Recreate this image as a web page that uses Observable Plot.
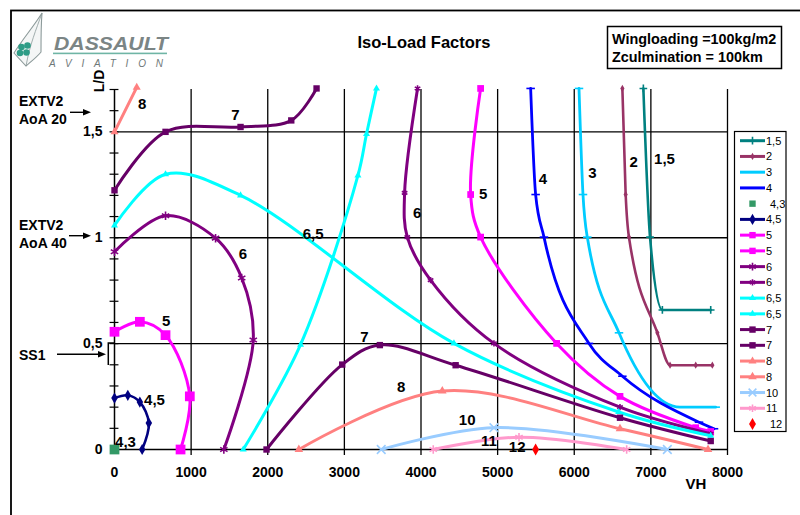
<!DOCTYPE html>
<html><head><meta charset="utf-8">
<script src="https://cdn.jsdelivr.net/npm/d3@7"></script>
<script src="https://cdn.jsdelivr.net/npm/@observablehq/plot@0.6"></script>
<style>
html,body{margin:0;padding:0;background:#fff;overflow:hidden;}
#wrap{position:relative;width:800px;height:515px;font-family:"Liberation Sans",Arial,sans-serif;}
#wrap > svg{position:absolute;left:0;top:0;max-width:none;}
</style></head><body><div id="wrap"></div>
<script>
// ---- data (VH, L/D) ----
const s1_5  = [[6902,1.705],[6989,1.003],[7150,0.659],[7781,0.659]];
const s2    = [[6628,1.705],[6671,1.204],[6714,1.003],[7085,0.551],[7250,0.398],[7585,0.398],[7802,0.398]];
const s3    = [[6062,1.705],[6114,1.204],[6170,1.003],[6584,0.551],[7380,0.2],[7846,0.2]];
const s4    = [[5431,1.705],[5496,1.204],[5605,1.003],[6192,0.501],[6628,0.346],[7628,0.129],[7824,0.098]];
const s4_3  = [[0,0]];
const s4_5  = [[0,0.243],[174,0.256],[331,0.224],[448,0.125],[361,0]];
const s5a   = [[0,0.556],[331,0.603],[666,0.54],[983,0.251],[862,0]];
const s5b   = [[4778,1.705],[4648,1.204],[4778,1.003],[5770,0.501],[6597,0.251],[7585,0.103],[7781,0.085]];
const s6a   = [[0,0.934],[666,1.104],[1319,0.998],[1660,0.81],[1811,0.517],[1427,0]];
const s6b   = [[3955,1.705],[3786,1.212],[3821,1.003],[4125,0.80],[4952,0.501],[6597,0.2],[7781,0.074]];
const s6_5a = [[0,1.058],[666,1.30],[1645,1.20],[4430,0.501],[6580,0.177],[7781,0.065]];
const s6_5b = [[1680,0],[2428,0.495],[3177,1.294],[3289,1.49],[3419,1.705]];
const s7a   = [[0,1.224],[666,1.50],[1645,1.523],[2307,1.554],[2637,1.705]];
const s7b   = [[1984,0],[2972,0.401],[3463,0.493],[4452,0.398],[6597,0.150],[7781,0.04]];
const s8a   = [[0,1.5],[290,1.71]];
const s8b   = [[2406,0],[4278,0.276],[6597,0.098],[7746,0]];
const s10   = [[3481,0],[4952,0.103],[7215,0]];
const s11   = [[4160,0],[5279,0.058],[6684,0]];
const s12   = [[5496,0]];

const legendLabels = ["1,5","2","3","4","4,3","4,5","5","5","6","6","6,5","6,5","7","7","8","8","10","11","12"];

const xTicks = [0,1000,2000,3000,4000,5000,6000,7000,8000];
const yTickLabels = [0,0.5,1,1.5];
const yMinorTicks = [0.1,0.2,0.3,0.4,0.5,0.6,0.7,0.8,0.9,1,1.1,1.2,1.3,1.4,1.5,1.6,1.7];
const gridLD = [0.5,1,1.5];

const curveLabels = ["8","7","6,5","6","5","4,5","4,3","6","5","4","3","2","1,5","7","8","10","11","12"];
const labelVH = [361,1579,2593,1675,674,522,144,3950,4812,5590,6238,6777,7178,3263,3741,4603,4885,5255];
const labelLD = [1.629,1.577,1.015,0.924,0.606,0.235,0.035,1.116,1.204,1.278,1.305,1.357,1.373,0.530,0.294,0.137,0.039,0.011];

// ---- styles ----
const dash = {draw(ctx, size){ const r = Math.sqrt(size)*0.75; ctx.moveTo(-r,0); ctx.lineTo(r,0); }};
const series = [
 {data:s1_5,  color:"#008080", sym:"plus",     r:2.6, sw:2.6, line:true,  filled:false, curve:"monotone-x"},
 {data:s2,    color:"#993366", sym:"diamond",  r:2.2, sw:2.6, line:true,  filled:true,  curve:"monotone-x"},
 {data:s3,    color:"#00CCFF", sym:dash,       r:3.2, sw:2.8, line:true,  filled:false, curve:"monotone-x"},
 {data:s4,    color:"#0000FF", sym:dash,       r:3.2, sw:2.8, line:true,  filled:false, curve:"monotone-x"},
 {data:s4_3,  color:"#339966", sym:"square",   r:5.5, sw:0,   line:false, filled:true},
 {data:s4_5,  color:"#000080", sym:"diamond",  r:3.4, sw:2.6, line:true,  filled:true},
 {data:s5a,   color:"#FF00FF", sym:"square",   r:5.5, sw:3,   line:true,  filled:true},
 {data:s5b,   color:"#FF00FF", sym:"square",   r:3.8, sw:3,   line:true,  filled:true},
 {data:s6a,   color:"#800080", sym:"asterisk", r:4,   sw:3,   line:true,  filled:false},
 {data:s6b,   color:"#800080", sym:"asterisk", r:3,   sw:3,   line:true,  filled:false},
 {data:s6_5a, color:"#00FFFF", sym:"triangle", r:2.6, sw:3,   line:true,  filled:true},
 {data:s6_5b, color:"#00FFFF", sym:"triangle", r:2.6, sw:3,   line:true,  filled:true},
 {data:s7a,   color:"#660066", sym:"square",   r:3.6, sw:3,   line:true,  filled:true},
 {data:s7b,   color:"#660066", sym:"square",   r:3.6, sw:3,   line:true,  filled:true},
 {data:s8a,   color:"#FF8080", sym:"triangle", r:3,   sw:3,   line:true,  filled:true},
 {data:s8b,   color:"#FF8080", sym:"triangle", r:3.2, sw:3,   line:true,  filled:true},
 {data:s10,   color:"#99CCFF", sym:"times",    r:4,   sw:3,   line:true,  filled:false},
 {data:s11,   color:"#FF99CC", sym:"asterisk", r:4,   sw:3,   line:true,  filled:false},
 {data:s12,   color:"#FF0000", sym:"diamond",  r:3.6, sw:0,   line:false, filled:true}
];

const labelRows = curveLabels.map((t,i)=>({t, x:labelVH[i], y:labelLD[i]}));
const FONT = "Liberation Sans, Arial, sans-serif";

const marks = [
  Plot.ruleX(xTicks.slice(1), {y1:-0.028, y2:1.7, stroke:"#000", strokeWidth:1.3}),
  Plot.ruleY(gridLD, {x1:0, x2:8000, stroke:"#000", strokeWidth:1.3}),
  Plot.ruleY(yMinorTicks, {x1:-58, x2:58, stroke:"#000", strokeWidth:1.2}),
  Plot.ruleX([0], {y1:0, y2:1.7, stroke:"#000", strokeWidth:1.5}),
  Plot.ruleY([0], {x1:0, x2:8000, stroke:"#000", strokeWidth:1.5}),
  Plot.axisX({ticks:xTicks, tickSize:0, tickPadding:18, fontSize:14, fontWeight:"bold", label:null, tickFormat:d=>String(d)}),
  Plot.axisY({ticks:yTickLabels, tickSize:0, tickPadding:12, fontSize:14, fontWeight:"bold", label:null, tickFormat:d=>String(d).replace(".",",")})
];
for (const s of series) {
  if (s.line) marks.push(Plot.line(s.data, {x:d=>d[0], y:d=>d[1], stroke:s.color, strokeWidth:s.sw,
    curve:s.curve || "catmull-rom", strokeLinejoin:"round", strokeLinecap:"round"}));
  marks.push(Plot.dot(s.data, {x:d=>d[0], y:d=>d[1], symbol:s.sym, r:s.r,
    fill: s.filled ? s.color : "none", stroke: s.filled ? "none" : s.color, strokeWidth: s.filled ? 0 : 1.6}));
}
marks.push(Plot.text(labelRows, {x:"x", y:"y", text:"t", fontSize:15, fontWeight:"bold", fill:"#000"}));

const chart = Plot.plot({
  width:800, height:515,
  marginLeft:114, marginRight:73, marginTop:89, marginBottom:66,
  x:{domain:[0,8000]}, y:{domain:[0,1.7]},
  style:{fontFamily:FONT, background:"transparent", overflow:"visible", color:"#000"},
  marks
});
document.getElementById("wrap").appendChild(chart);

// ---- overlay: frame, logo, title, info box, annotations, legend ----
const ov = d3.select("#wrap").append("svg").attr("width",800).attr("height",515)
  .style("position","absolute").style("left","0px").style("top","0px").style("font-family",FONT);

ov.append("rect").attr("x",11).attr("y",10.5).attr("width",830).attr("height",530)
  .attr("fill","none").attr("stroke","#000").attr("stroke-width",1.8);

// logo
const lg = ov.append("g");
lg.append("path").attr("d","M42,13 C34,26 22,40 14,53 L26,66 C33,60 38,56 41,52 C41,38 41,25 42,13 Z")
  .attr("fill","#f4f6f6").attr("stroke","#8c9a9a").attr("stroke-width",1.1);
lg.append("path").attr("d","M42,13 C36,30 30,44 26,66").attr("fill","none").attr("stroke","#8c9a9a").attr("stroke-width",0.8);
[[21.5,47],[27.5,45.5],[20,53],[26.5,52.5]].forEach(([cx,cy])=>lg.append("circle").attr("cx",cx).attr("cy",cy).attr("r",3.3).attr("fill","#2e9c86"));
lg.append("text").attr("x",54).attr("y",50).attr("font-size",19).attr("font-weight","bold").attr("font-style","italic")
  .attr("fill","#7b8585").attr("textLength",114).attr("lengthAdjust","spacingAndGlyphs").text("DASSAULT");
lg.append("rect").attr("x",53).attr("y",52.6).attr("width",114).attr("height",1.6).attr("fill","#6fb5a5");
lg.append("text").attr("x",49).attr("y",66.5).attr("font-size",10).attr("font-style","italic")
  .attr("fill","#6f7878").attr("textLength",114).attr("lengthAdjust","spacing").text("AVIATION");

// title
ov.append("text").attr("x",424).attr("y",48).attr("text-anchor","middle").attr("font-size",16.5)
  .attr("font-weight","bold").text("Iso-Load Factors");

// info box
ov.append("rect").attr("x",607.5).attr("y",26.5).attr("width",174).attr("height",42)
  .attr("fill","#fff").attr("stroke","#000").attr("stroke-width",1.5);
ov.append("text").attr("x",612).attr("y",44).attr("font-size",14.4).attr("font-weight","bold").text("Wingloading =100kg/m2");
ov.append("text").attr("x",612).attr("y",62).attr("font-size",14.4).attr("font-weight","bold").text("Zculmination = 100km");

// axis titles
ov.append("text").attr("transform","translate(99,81) rotate(-90)").attr("text-anchor","middle")
  .attr("dominant-baseline","central").attr("font-size",14).attr("font-weight","bold").text("L/D");
ov.append("text").attr("x",696).attr("y",489).attr("text-anchor","middle").attr("font-size",15)
  .attr("font-weight","bold").text("VH");

// left annotations
function note(lines, x, y0, dy){ lines.forEach((t,i)=>ov.append("text").attr("x",x).attr("y",y0+i*dy)
  .attr("font-size",14).attr("font-weight","bold").text(t)); }
function arrow(x1,x2,y){
  ov.append("line").attr("x1",x1).attr("x2",x2-6).attr("y1",y).attr("y2",y).attr("stroke","#000").attr("stroke-width",1.4);
  ov.append("path").attr("d",`M${x2},${y}L${x2-8},${y-3.2}L${x2-8},${y+3.2}Z`).attr("fill","#000");
}
note(["EXTV2","AoA 20"], 19, 105.5, 18);
arrow(70, 91, 112.3);
note(["EXTV2","AoA 40"], 19, 230, 18);
arrow(69, 91, 235.7);
note(["SS1"], 19, 360, 18);
arrow(57, 106, 354.3);
ov.append("path").attr("d","M114,343 L108.3,343 L108.3,365").attr("fill","none").attr("stroke","#000").attr("stroke-width",1.5);

// legend
const L = ov.append("g");
L.append("rect").attr("x",734.5).attr("y",131.5).attr("width",51.5).attr("height",300)
  .attr("fill","#fff").attr("stroke","#000").attr("stroke-width",1.2);
series.forEach((s,i)=>{
  const y = 140.7 + i*15.74;
  if (s.line) L.append("line").attr("x1",740).attr("x2",765).attr("y1",y).attr("y2",y)
    .attr("stroke",s.color).attr("stroke-width",3);
  const type = typeof s.sym === "string"
    ? {plus:d3.symbolPlus, diamond:d3.symbolDiamond, square:d3.symbolSquare, asterisk:d3.symbolAsterisk,
       triangle:d3.symbolTriangle, times:d3.symbolTimes}[s.sym] : s.sym;
  const rr = Math.min(s.r, 3.6);
  L.append("path").attr("d", d3.symbol().type(type).size(Math.PI*rr*rr)())
    .attr("transform",`translate(752.5,${y})`)
    .attr("fill", s.filled ? s.color : "none").attr("stroke", s.filled ? "none" : s.color).attr("stroke-width",1.6);
  L.append("text").attr("x", s.line ? 766 : 770).attr("y",y).attr("dominant-baseline","central")
    .attr("font-size",11).text(legendLabels[i]);
});
</script></body></html>
